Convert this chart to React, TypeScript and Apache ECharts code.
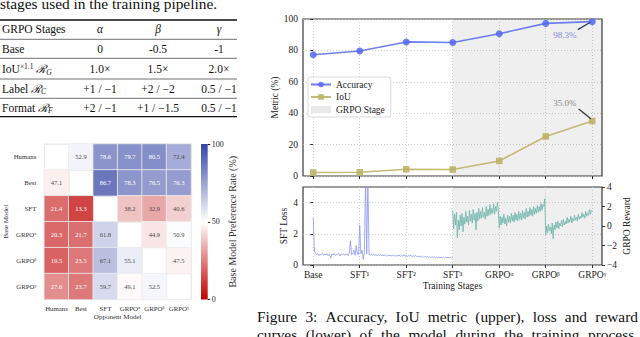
import React, { useEffect, useRef } from 'react';
import * as echarts from 'echarts';

const FONT = "'Liberation Serif', 'DejaVu Serif', serif";

// ---------- Upper panel: metrics per training stage ----------
const stages = ['Base', 'SFT¹', 'SFT²', 'SFT³', 'GRPOᵅ', 'GRPOᵝ', 'GRPOᵞ'];
const accuracy = [77.2, 79.6, 85.4, 85.0, 90.6, 97.2, 98.3];
const iou = [2.2, 2.4, 4.3, 4.1, 9.6, 25.2, 35.0];

// ---------- Lower panel: SFT loss (Base -> SFT3) and GRPO reward (SFT3 -> GRPOγ) ----------
const sftLoss = [
  3.0, 0.9, 0.75, 0.68, 0.72, 0.6, 0.7, 0.66, 0.74, 0.62, 0.7, 0.65, 0.72, 0.6, 0.68, 0.45,
  0.7, 0.64, 0.73, 0.61, 0.69, 0.66, 0.74, 0.58, 0.7, 0.65, 0.72, 0.62, 0.68, 0.71, 0.6, 0.74,
  1.55, 0.66, 0.7, 0.95, 0.62, 1.25, 0.7, 0.68, 2.55, 0.72, 0.95, 0.35, 0.8, 5.5, 0.7, 5.5,
  0.68, 0.64, 0.7, 0.62, 0.67, 0.63, 0.66, 0.6, 0.65, 0.62, 0.66, 0.59, 0.64, 0.61, 0.65, 0.58,
  0.63, 0.6, 0.64, 0.57, 0.62, 0.59, 0.63, 0.56, 0.61, 0.58, 0.64, 0.55, 0.6, 0.57, 0.66, 0.56,
  0.62, 0.55, 0.6, 0.57, 0.63, 0.54, 0.59, 0.56, 0.61, 0.53, 0.58, 0.5, 0.57, 0.52, 0.56, 0.49,
  0.55, 0.5, 0.54, 0.48, 0.53, 0.47, 0.52, 0.49, 0.53, 0.46, 0.51, 0.48, 0.52, 0.45, 0.5, 0.47,
  0.51, 0.44, 0.5, 0.46, 0.5, 0.45, 0.49, 0.46, 0.48,
];
const grpoReward = [
  1.6, -0.3, 1.2, 0.1, 1.4, -1.2, 0.6, -0.4, 1.1, 0.0, 1.3, -0.6, 0.9, 0.2, 1.5, 0.4,
  1.0, 0.1, 1.6, 0.5, 1.2, 0.3, 1.7, 0.6, 1.3, -0.4, 1.4, 0.5, 1.8, 0.7, 1.5, 0.8,
  1.9, 0.9, 1.4, 0.7, 2.0, 1.0, 1.7, 1.1, 2.2, 1.2, 1.8, 1.3, 2.3, 1.2, 2.0, 1.5,
  2.4, 1.7,
  -0.2, 1.0, 0.1, 0.9, 0.3, 1.2, 0.2, 0.8, 0.0, 1.1, 0.4, 1.0, 0.3, 1.3, 0.5, 1.1,
  0.4, 1.4, 0.6, 1.2, 0.5, 1.5, 0.7, 1.3, 0.6, 1.6, 0.8, 1.4, 0.7, 1.8, 0.9, 1.5,
  1.0, 1.9, 1.1, 1.7, 1.0, 2.0, 1.2, 1.8, 1.3, 2.1, 1.4, 2.0, 1.5, 2.3, 1.6, 2.2,
  2.0, 2.8,
  -0.9, 0.0, -0.7, 0.2, -0.5, -0.1, -0.8, 0.3, -1.3, 0.1, -0.4, 0.4, -0.2, 0.5, -0.3, 0.3,
  0.0, 0.6, -0.1, 0.7, 0.1, 0.5, 0.2, 0.9, 0.3, 0.7, 0.4, 1.0, 0.3, 0.8, 0.5, 1.1,
  0.6, 0.9, 0.5, 1.2, 0.7, 1.0, 0.8, 1.4, 0.9, 1.2, 0.8, 1.5, 1.0, 1.3, 1.1, 1.7,
  1.2, 1.6, 1.5,
];

// ---------- Heatmap: base model preference rate (%) ----------
const hmModels = ['Humans', 'Best', 'SFT', 'GRPOᵅ', 'GRPOᵝ', 'GRPOᵞ'];
const prefHumans = [null, 52.9, 78.6, 79.7, 80.5, 72.4];
const prefBest = [47.1, null, 86.7, 78.3, 76.5, 76.3];
const prefSFT = [21.4, 13.3, null, 38.2, 32.9, 40.6];
const prefGrpoA = [20.3, 21.7, 61.8, null, 44.9, 50.9];
const prefGrpoB = [19.5, 23.5, 67.1, 55.1, null, 47.5];
const prefGrpoG = [27.6, 23.7, 59.7, 49.1, 52.5, null];
const colorbarMax = [100];

// ---------- Table ----------
const tableHeader = ['GRPO Stages', 'α', 'β', 'γ'];
const tableRowLabels = ['Base', 'IoU{sup|×1.1} {r|ℛ}{sub|G}', 'Label {r|ℛ}{sub|C}', 'Format {r|ℛ}{sub|F}'];
const tableAlpha = ['0', '1.0×', '+1 / −1', '+2 / −1'];
const tableBeta = ['-0.5', '1.5×', '+2 / −2', '+1 / −1.5'];
const tableGamma = ['-1', '2.0×', '0.5 / −1', '0.5 / −1'];

// ---------- Surrounding paper text ----------
const paperLineTop = 'stages used in the training pipeline.';
const captionLine1 = 'Figure 3:  Accuracy, IoU metric (upper), loss and reward';
const captionLine2 = 'curves (lower) of the model during the training process.';

const X_MIN = -0.22;
const X_MAX = 6.21;

function measure(text: string, size: number): number {
  try {
    const c = document.createElement('canvas').getContext('2d');
    if (c) {
      c.font = `${size}px 'Liberation Serif'`;
      return c.measureText(text).width;
    }
  } catch (e) {
    /* ignore */
  }
  return text.length * size * 0.45;
}

function buildOption() {
  const stageIdx = stages.map((_, i) => i);
  const dotted = { show: true, lineStyle: { color: '#c4c4c4', type: [1, 2] as any, width: 0.8 } };
  const tickStyle = { color: '#333', width: 1 };
  const axisText = { fontFamily: FONT, fontSize: 9.5, color: '#222' };
  const ACC = 'rgba(84,104,240,0.85)';
  const IOU = 'rgba(188,178,100,0.9)';

  const prefRows = [prefHumans, prefBest, prefSFT, prefGrpoA, prefGrpoB, prefGrpoG];
  const hmData: any[] = [];
  prefRows.forEach((row, r) =>
    row.forEach((v, c) => {
      if (v != null) {
        hmData.push({ value: [c, r, v], label: { color: v > 75 || v < 30 ? '#ffffff' : '#4a4a4a' } });
      }
    })
  );

  // Table graphics
  const g: any[] = [];
  const rules = [
    { y: 20, w: 1.3 },
    { y: 39.3, w: 0.6 },
    { y: 58.3, w: 0.6 },
    { y: 79, w: 0.6 },
    { y: 98.3, w: 0.6 },
    { y: 116.7, w: 1.3 },
  ];
  rules.forEach((r) =>
    g.push({ type: 'line', shape: { x1: 0, y1: r.y, x2: 237, y2: r.y }, style: { stroke: '#111', lineWidth: r.w } })
  );
  const colX = [100, 158, 219];
  const rowY = [29.3, 49, 69.3, 88.7, 107.7];
  const txt = (text: string, x: number, y: number, align: string, extra: any = {}) => ({
    type: 'text',
    x,
    y,
    style: {
      text,
      fontFamily: FONT,
      fontSize: 11.5,
      fill: '#111',
      align,
      textAlign: align,
      verticalAlign: 'middle',
      textVerticalAlign: 'middle',
      ...extra,
    },
  });
  g.push(txt(tableHeader[0], 2, rowY[0], 'left'));
  tableHeader.slice(1).forEach((h, i) => g.push(txt(h, colX[i], rowY[0], 'center', { fontStyle: 'italic' })));
  const rich = {
    sup: { fontSize: 7.5, verticalAlign: 'top', fontFamily: FONT, lineHeight: 8 },
    sub: { fontSize: 7.5, verticalAlign: 'bottom', fontFamily: FONT, fontStyle: 'italic', lineHeight: 8 },
    r: { fontSize: 11.5, fontFamily: "'DejaVu Serif', serif", fontStyle: 'italic', lineHeight: 14 },
  };
  tableRowLabels.forEach((lab, i) => g.push(txt(lab, 2, rowY[i + 1], 'left', { rich, lineHeight: 14 })));
  [tableAlpha, tableBeta, tableGamma].forEach((col, ci) =>
    col.forEach((v, ri) => g.push(txt(v, colX[ci], rowY[ri + 1], 'center')))
  );

  // paper text (last line of a paragraph: not justified)
  g.push(txt(paperLineTop, 0, 3.4, 'left', { fontSize: 15.4 }));
  // justified caption lines
  const CAP = 15.4;
  const justify = (line: string, x0: number, width: number, y: number) => {
    const words = line.split(/\s+/);
    const widths = words.map((w) => measure(w, CAP));
    const total = widths.reduce((a, b) => a + b, 0);
    const gap = (width - total) / (words.length - 1);
    let x = x0;
    words.forEach((w, i) => {
      g.push(txt(w, x, y, 'left', { fontSize: CAP }));
      x += widths[i] + gap;
    });
  };
  justify(captionLine1, 257, 381, 316.5);
  justify(captionLine2, 257, 381, 334.5);

  return {
    animation: false,
    backgroundColor: '#ffffff',
    textStyle: { fontFamily: FONT },
    grid: [
      { left: 303, top: 19, width: 299, height: 157, show: true, borderColor: '#3a3a3a', borderWidth: 1.2 },
      { left: 303, top: 187, width: 299, height: 78, show: true, borderColor: '#3a3a3a', borderWidth: 1.2 },
      { left: 44.3, top: 144, width: 146.7, height: 155.5, show: true, borderColor: '#e6e6e6', borderWidth: 0.8 },
      { left: 201, top: 144, width: 6.7, height: 155.5 },
    ],
    legend: {
      left: 308,
      top: 77,
      orient: 'vertical',
      itemWidth: 20,
      itemHeight: 7,
      itemGap: 1.5,
      padding: [2, 6, 2, 2],
      borderColor: '#cfcfcf',
      borderWidth: 0.8,
      borderRadius: 2.5,
      backgroundColor: 'rgba(255,255,255,0.92)',
      selectedMode: false,
      textStyle: { ...axisText, lineHeight: 11 },
      data: ['Accuracy', 'IoU', { name: 'GRPO Stage', icon: 'rect', itemStyle: { color: '#e9e9e9' } }],
    },
    xAxis: [
      {
        type: 'value', gridIndex: 0, min: X_MIN, max: X_MAX, splitNumber: 6, minInterval: 1, maxInterval: 1,
        axisLine: { show: false },
        axisTick: { show: true, customValues: stageIdx, length: 3, lineStyle: tickStyle },
        axisLabel: { show: false },
        splitLine: dotted,
      },
      {
        type: 'value', gridIndex: 1, min: X_MIN, max: X_MAX, splitNumber: 6, minInterval: 1, maxInterval: 1,
        axisLine: { show: false },
        axisTick: { show: true, customValues: stageIdx, length: 3, lineStyle: tickStyle },
        axisLabel: {
          ...axisText, margin: 5, customValues: stageIdx,
          formatter: (v: number) => stages[Math.round(v)] ?? '',
        },
        splitLine: dotted,
        name: 'Training Stages', nameLocation: 'middle', nameGap: 16, nameTextStyle: axisText,
      },
      {
        type: 'category', gridIndex: 2, data: hmModels, position: 'bottom',
        axisLine: { show: false }, axisTick: { show: false },
        axisLabel: { fontFamily: FONT, fontSize: 6.8, color: '#333', margin: 5, interval: 0 },
        splitLine: { show: true, interval: 0, lineStyle: { color: '#e8e8e8', width: 0.8 } },
        name: 'Opponent Model', nameLocation: 'middle', nameGap: 14,
        nameTextStyle: { fontFamily: FONT, fontSize: 7, color: '#333' },
      },
      { type: 'category', gridIndex: 3, data: [''], show: false },
    ],
    yAxis: [
      {
        type: 'value', gridIndex: 0, min: 0, max: 100, interval: 20,
        axisLine: { show: false },
        axisTick: { show: true, length: 3, lineStyle: tickStyle },
        axisLabel: { ...axisText, margin: 5 },
        splitLine: dotted,
        name: 'Metric (%)', nameLocation: 'middle', nameGap: 20, nameRotate: 90, nameTextStyle: axisText,
      },
      {
        type: 'value', gridIndex: 1, min: 0, max: 5, interval: 2,
        axisLine: { show: false },
        axisTick: { show: true, length: 3, lineStyle: tickStyle, customValues: [0, 2, 4] },
        axisLabel: { ...axisText, margin: 5, customValues: [0, 2, 4] },
        splitLine: dotted,
        name: 'SFT Loss', nameLocation: 'middle', nameGap: 13, nameRotate: 90, nameTextStyle: axisText,
      },
      {
        type: 'value', gridIndex: 1, position: 'right', min: -4, max: 4, interval: 2,
        axisLine: { show: false },
        axisTick: { show: true, length: 3, lineStyle: tickStyle },
        axisLabel: { ...axisText, margin: 5, formatter: (v: number) => (v < 0 ? '−' + Math.abs(v) : String(v)) },
        splitLine: { show: false },
        name: 'GRPO Reward', nameLocation: 'middle', nameGap: 20, nameRotate: 90, nameTextStyle: axisText,
      },
      {
        type: 'category', gridIndex: 2, data: hmModels, inverse: true,
        axisLine: { show: false }, axisTick: { show: false },
        axisLabel: { fontFamily: FONT, fontSize: 6.8, color: '#333', margin: 8, interval: 0 },
        splitLine: { show: true, interval: 0, lineStyle: { color: '#e8e8e8', width: 0.8 } },
        name: 'Base Model', nameLocation: 'middle', nameGap: 34, nameRotate: 90,
        nameTextStyle: { fontFamily: FONT, fontSize: 7, color: '#333' },
      },
      {
        type: 'value', gridIndex: 3, position: 'right', min: 0, max: 100, interval: 50,
        axisLine: { show: false },
        axisTick: { show: true, length: 2.5, lineStyle: { color: '#222', width: 1 } },
        axisLabel: { fontFamily: FONT, fontSize: 8, color: '#222', margin: 4 },
        splitLine: { show: false },
        name: 'Base Model Preference Rate (%)', nameLocation: 'middle', nameGap: 20, nameRotate: 90,
        nameTextStyle: { fontFamily: FONT, fontSize: 10, color: '#333' },
      },
    ],
    visualMap: [
      {
        type: 'continuous', show: false, min: 0, max: 100, dimension: 2, seriesIndex: 5,
        inRange: { color: ['#c00000', '#ffffff', '#3545a5'] },
      },
    ],
    series: [
      {
        name: 'Accuracy', type: 'line', xAxisIndex: 0, yAxisIndex: 0, z: 4,
        data: accuracy.map((v, i) => [i, v]),
        symbol: 'circle', symbolSize: 7,
        lineStyle: { width: 1.6, color: ACC }, itemStyle: { color: ACC },
        markLine: {
          silent: true, symbol: ['none', 'arrow'], symbolSize: [0, 6], label: { show: false },
          lineStyle: { color: '#2f3868', width: 1.3, type: 'solid' },
          data: [[{ coord: [5.69, 93.2] }, { coord: [5.95, 97.8] }]],
        },
        markPoint: {
          silent: true, symbol: 'circle', symbolSize: 1, itemStyle: { color: 'rgba(0,0,0,0)' },
          label: { show: true, position: 'inside', color: '#7d8ad8', fontFamily: FONT, fontSize: 9,
            formatter: (p: any) => `${Number(p.value).toFixed(1)}%` },
          data: [{ coord: [5.41, 90.0], value: accuracy[accuracy.length - 1] }],
        },
      },
      {
        name: 'IoU', type: 'line', xAxisIndex: 0, yAxisIndex: 0, z: 4,
        data: iou.map((v, i) => [i, v]),
        symbol: 'rect', symbolSize: 6.5,
        lineStyle: { width: 1.6, color: IOU }, itemStyle: { color: IOU },
        markArea: {
          silent: true, itemStyle: { color: 'rgba(0,0,0,0.062)' },
          data: [[{ xAxis: 3 }, { xAxis: X_MAX }]],
        },
        markLine: {
          silent: true, symbol: ['none', 'arrow'], symbolSize: [0, 6], label: { show: false },
          lineStyle: { color: '#3a3a3a', width: 1.3, type: 'solid' },
          data: [[{ coord: [5.71, 42.6] }, { coord: [5.97, 36.4] }]],
        },
        markPoint: {
          silent: true, symbol: 'circle', symbolSize: 1, itemStyle: { color: 'rgba(0,0,0,0)' },
          label: { show: true, position: 'inside', color: '#8a8a8a', fontFamily: FONT, fontSize: 9,
            formatter: (p: any) => `${Number(p.value).toFixed(1)}%` },
          data: [{ coord: [5.41, 46.7], value: iou[iou.length - 1] }],
        },
      },
      {
        name: 'GRPO Stage', type: 'line', xAxisIndex: 0, yAxisIndex: 0, data: [],
        itemStyle: { color: '#e9e9e9' }, lineStyle: { color: '#e9e9e9' },
      },
      {
        name: 'SFT Loss', type: 'line', xAxisIndex: 1, yAxisIndex: 1, z: 3,
        data: sftLoss.map((v, i) => [(i * 3) / (sftLoss.length - 1), v]),
        showSymbol: false, symbol: 'none', clip: true,
        lineStyle: { width: 1, color: 'rgba(140,150,245,0.8)' },
        markArea: {
          silent: true, itemStyle: { color: 'rgba(0,0,0,0.062)' },
          data: [[{ xAxis: 3 }, { xAxis: X_MAX }]],
        },
      },
      {
        name: 'GRPO Reward', type: 'line', xAxisIndex: 1, yAxisIndex: 2, z: 3,
        data: grpoReward.map((v, i) => [3 + (i * 3) / (grpoReward.length - 1), v]),
        showSymbol: false, symbol: 'none',
        lineStyle: { width: 1, color: 'rgba(120,185,175,0.9)' },
      },
      {
        name: 'pref', type: 'heatmap', xAxisIndex: 2, yAxisIndex: 3,
        data: hmData,
        itemStyle: { borderColor: '#ececec', borderWidth: 0.8 },
        label: { show: true, fontFamily: FONT, fontSize: 6.5, formatter: (p: any) => Number(p.value[2]).toFixed(1) },
      },
      {
        name: 'colorbar', type: 'bar', xAxisIndex: 3, yAxisIndex: 4, barWidth: '100%',
        data: colorbarMax, silent: true,
        itemStyle: {
          color: new echarts.graphic.LinearGradient(0, 0, 0, 1, [
            { offset: 0, color: '#3545a5' },
            { offset: 0.5, color: '#ffffff' },
            { offset: 1, color: '#c00000' },
          ]),
        },
      },
    ],
    graphic: g,
  };
}

export default function App() {
  const ref = useRef<HTMLDivElement>(null);
  useEffect(() => {
    if (!ref.current) return;
    const chart = echarts.init(ref.current, null, { renderer: 'svg' });
    chart.setOption(buildOption() as any);
    return () => chart.dispose();
  }, []);
  return (
    <div
      ref={ref}
      style={{ position: 'absolute', left: 0, top: 0, width: 640, height: 337, background: '#fff' }}
    />
  );
}
